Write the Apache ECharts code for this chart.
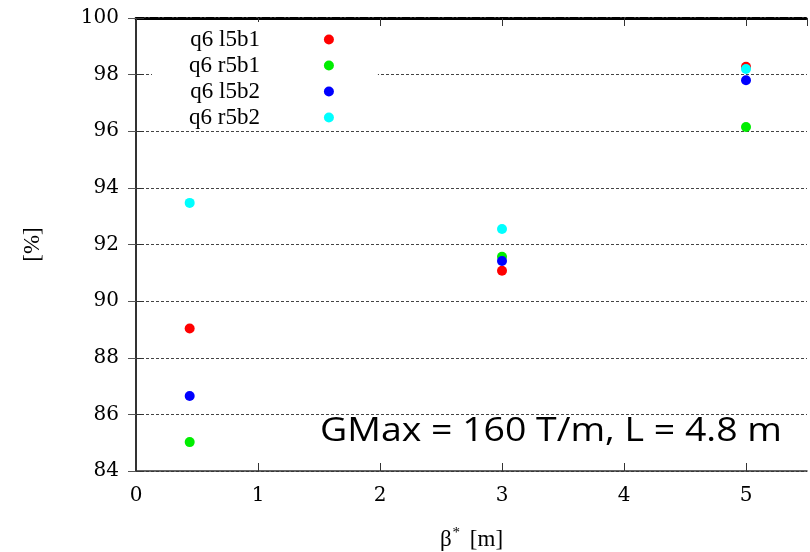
<!DOCTYPE html>
<html>
<head>
<meta charset="utf-8">
<script src="https://cdn.jsdelivr.net/npm/echarts@6/dist/echarts.min.js"></script>
<style>html,body{margin:0;padding:0;background:#fff}#c{width:810px;height:552px}</style>
</head>
<body>
<div id="c"></div>
<script>
// ---- data ----
const betaStar = [0.44, 3, 5];
const seriesNames = ['q6 l5b1', 'q6 r5b1', 'q6 l5b2', 'q6 r5b2'];
const q6_l5b1 = [89.03, 91.07, 98.28];
const q6_r5b1 = [85.02, 91.57, 96.15];
const q6_l5b2 = [86.65, 91.42, 97.80];
const q6_r5b2 = [93.47, 92.55, 98.20];
const seriesValues = [q6_l5b1, q6_r5b1, q6_l5b2, q6_r5b2];
const seriesColors = ['#ff0000', '#00ee00', '#0000ff', '#00ffff'];
const xTicks = { min: 0, max: 5.5, interval: 1 };
const yTicks = { min: 84, max: 100, interval: 2 };
const annotation = 'GMax = 160 T/m, L = 4.8 m';

const serif = 'Liberation Serif';
const tickFont = 'DejaVu Serif';
const chart = echarts.init(document.getElementById('c'), null, { renderer: 'canvas' });

const series = seriesNames.map((name, i) => ({
  name: name,
  type: 'scatter',
  xAxisIndex: 0,
  yAxisIndex: 0,
  symbol: 'circle',
  symbolSize: 10,
  itemStyle: { color: seriesColors[i], opacity: 1 },
  data: betaStar.map((x, j) => [x, seriesValues[i][j]])
}));

chart.setOption({
  animation: false,
  backgroundColor: '#fff',
  textStyle: { fontFamily: serif },
  grid: { left: 136, right: 3, top: 18, bottom: 81, containLabel: false, outerBoundsMode: 'none' },
  legend: {
    orient: 'vertical',
    left: 152,
    top: 22,
    align: 'right',
    itemWidth: 128,
    itemHeight: 10,
    itemGap: 3,
    padding: [6, 44, 1, 37],
    backgroundColor: '#fff',
    icon: 'circle',
    textStyle: { fontFamily: serif, fontSize: 23, color: '#000' },
    data: seriesNames
  },
  xAxis: [
    {
      type: 'value', position: 'bottom',
      min: xTicks.min, max: xTicks.max, interval: xTicks.interval,
      name: 'β{sup|*} [m]',
      nameLocation: 'middle', nameGap: 55,
      nameTextStyle: {
        fontFamily: serif, fontSize: 23, color: '#000',
        rich: { sup: { fontFamily: serif, fontSize: 15, verticalAlign: 'top', padding: [0, 4, 12, 1] } }
      },
      axisLine: { show: true, lineStyle: { color: '#333', width: 1.5 } },
      axisTick: { show: true, inside: true, length: 8, lineStyle: { color: '#333', width: 1 } },
      axisLabel: {
        margin: 15, showMaxLabel: false, fontFamily: tickFont, fontSize: 20, color: '#000'
      },
      splitLine: { show: false }
    },
    {
      type: 'value', position: 'top',
      min: xTicks.min, max: xTicks.max, interval: xTicks.interval,
      axisLine: { show: true, lineStyle: { color: '#000', width: 3, type: [8, 2, 2, 2] } },
      axisTick: { show: true, inside: true, length: 8, lineStyle: { color: '#333', width: 1 } },
      axisLabel: { show: false },
      splitLine: { show: false }
    }
  ],
  yAxis: [
    {
      type: 'value', position: 'left',
      min: yTicks.min, max: yTicks.max, interval: yTicks.interval,
      name: '[%]', nameLocation: 'middle', nameGap: 92, nameRotate: 90,
      nameTextStyle: { fontFamily: serif, fontSize: 23, color: '#000' },
      axisLine: { show: true, lineStyle: { color: '#333', width: 1.5 } },
      axisTick: { show: true, inside: true, length: 8, lineStyle: { color: '#333', width: 1 } },
      axisLabel: {
        margin: 17, fontSize: 20, color: '#000', fontFamily: tickFont
      },
      splitLine: { show: true, lineStyle: { color: '#444', width: 1, type: [3, 2] } }
    },
    {
      type: 'value', position: 'right',
      min: yTicks.min, max: yTicks.max, interval: yTicks.interval,
      axisLine: { show: true, lineStyle: { color: '#222', width: 1.5 } },
      axisTick: { show: true, inside: true, length: 8, lineStyle: { color: '#555', width: 1 } },
      axisLabel: { show: false },
      splitLine: { show: false }
    }
  ],
  graphic: [
    {
      type: 'text', x: 320, y: 432, scaleX: 1.17, z: 100,
      style: {
        text: annotation,
        font: '32px "Open Sans", "Noto Sans", sans-serif',
        fill: '#000',
        verticalAlign: 'middle',
        align: 'left'
      }
    }
  ],
  series: series
});
</script>
</body>
</html>
